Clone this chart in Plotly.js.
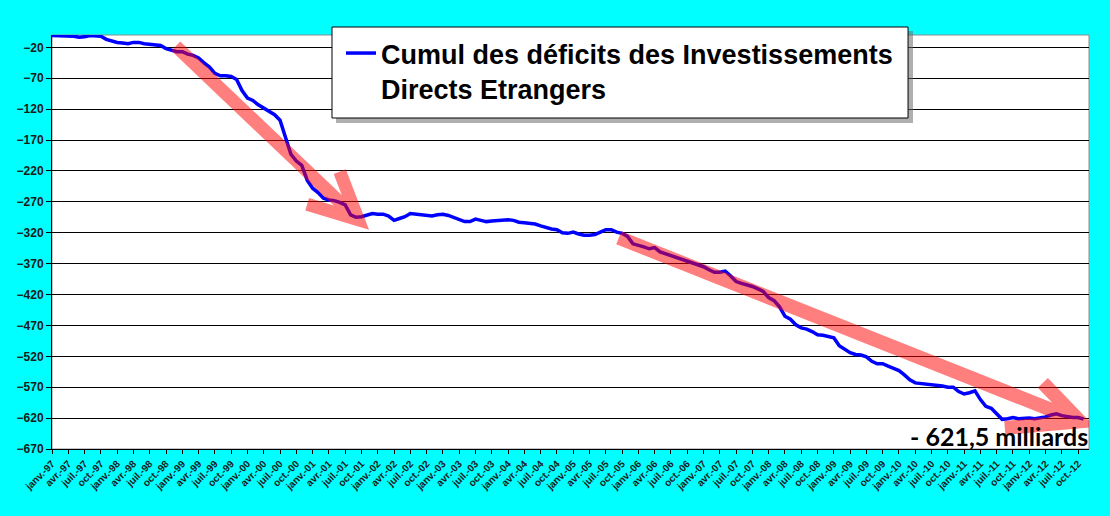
<!DOCTYPE html>
<html>
<head>
<meta charset="utf-8">
<script src="https://cdn.plot.ly/plotly-3.0.1.min.js"></script>
<style>
  html, body { margin: 0; padding: 0; background: #00ffff; }
  #chart { width: 1110px; height: 516px; }
</style>
</head>
<body>
<div id="chart"></div>
<script>
/* ── Cumul des déficits IDE, janv. 1997 – nov. 2012 (milliards) ── */

const MONTH_NAMES = ['janv.', 'févr.', 'mars', 'avr.', 'mai', 'juin',
                     'juil.', 'août', 'sept.', 'oct.', 'nov.', 'déc.'];
const FIRST_YEAR = 1997;

// one value per month
const cumulDeficit = [
  -1, -1, -1, -1, -2, -3.5, -3, -1, -1, -2, -7, -10,
  -12, -13, -14, -12, -12, -14, -15, -15.5, -17, -22, -25, -27,
  -27, -31, -33, -37, -45, -52, -62, -66, -66, -67, -72, -90,
  -102, -106, -113, -118, -124, -129, -138, -168, -193, -204, -211, -235,
  -248, -255, -264, -267, -268, -271, -275, -291, -295, -294, -291, -289,
  -290, -290, -293, -300, -297, -294, -289, -290, -291, -292, -293, -291,
  -290, -292, -295, -299, -302, -302, -298, -300, -302, -301, -300, -299,
  -299, -300, -303, -304, -305, -306, -309, -312, -314, -315, -320, -321,
  -319, -322, -324, -324, -323, -319, -315, -315, -319, -321, -326, -338,
  -340, -343, -346, -344, -351, -354, -356, -359, -362, -365, -368, -371,
  -375, -380, -384, -384, -382, -390, -399, -402, -404, -407, -411, -415,
  -425, -430, -440, -455, -460, -469, -474, -476, -480, -485, -486, -488,
  -490, -503, -509, -514, -517, -518, -521, -528, -532, -532, -536, -539,
  -543, -550, -558, -563, -564, -565, -565, -566, -568, -570, -570, -577,
  -581, -579, -576, -590, -601, -604, -614, -622, -621, -619, -621, -620,
  -620, -621, -619.5, -618, -615, -613, -616, -618, -619, -619, -621.5
];

const yTicks = [-20, -70, -120, -170, -220, -270, -320, -370, -420, -470, -520, -570, -620, -670];

// trend arrows: [month index, value] – shaft start, tip, barb 1, barb 2
const arrow1 = [[22.8, -18], [56.4, -299], [53, -221], [47, -274]];
const arrow2 = [[104.4, -328], [189.3, -625], [182.5, -563], [175.5, -636]];

const monthIdx = cumulDeficit.map((_, i) => i);
const monthLabels = monthIdx.map(i =>
  MONTH_NAMES[i % 12] + '-' + String((FIRST_YEAR + Math.floor(i / 12)) % 100).padStart(2, '0'));

const quarterIdx = monthIdx.filter(i => i % 3 === 0);
const quarterText = quarterIdx.map(i => monthLabels[i]);

function arrowPath(a) {
  const p = ([x, y]) => x + ',' + y;
  return 'M' + p(a[0]) + 'L' + p(a[1]) + 'M' + p(a[2]) + 'L' + p(a[1]) + 'L' + p(a[3]);
}

const TICK_FONT = { family: 'Liberation Sans, Arial, sans-serif', size: 12, color: '#1a1a1a', weight: 'bold' };

const traces = [{
  x: monthIdx,
  y: cumulDeficit,
  text: monthLabels,
  mode: 'lines',
  name: 'Cumul des déficits des Investissements<br>Directs Etrangers',
  line: { color: '#0000ff', width: 3.5 },
  hovertemplate: '%{text}: %{y:.1f}<extra></extra>',
}];

const layout = {
  width: 1110,
  height: 516,
  paper_bgcolor: '#00ffff',
  plot_bgcolor: '#ffffff',
  margin: { t: 35, b: 67, l: 52, r: 21, pad: 0 },
  showlegend: true,
  xaxis: {
    type: 'linear',
    range: [0, 191],
    tickmode: 'array',
    tickvals: quarterIdx,
    ticktext: quarterText,
    tickangle: -45,
    tickfont: { family: 'Liberation Sans, Arial, sans-serif', size: 10, color: '#1a1a1a', weight: 'bold' },
    ticks: 'outside',
    ticklen: 4,
    tickcolor: '#000000',
    showline: true,
    linecolor: '#000000',
    linewidth: 1,
    showgrid: false,
    zeroline: false,
    fixedrange: true,
  },
  yaxis: {
    range: [-670, 0],
    tickmode: 'array',
    tickvals: yTicks,
    tickfont: TICK_FONT,
    ticks: 'outside',
    ticklen: 5,
    tickcolor: '#000000',
    showline: true,
    linecolor: '#000000',
    linewidth: 1,
    gridcolor: '#000000',
    gridwidth: 1,
    zeroline: false,
    fixedrange: true,
  },
  legend: {
    x: 0.2787, xanchor: 'left',
    y: 1.0145, yanchor: 'top',
    bgcolor: 'rgba(0,0,0,0)',
    borderwidth: 0,
    valign: 'top',
    font: { family: 'Liberation Sans, Arial, sans-serif', size: 27, color: '#000000', weight: 'bold' },
  },
  shapes: [
    { type: 'rect', xref: 'paper', yref: 'paper', x0: 0, x1: 1, y0: 0, y1: 1,
      line: { color: '#8c8c8c', width: 1 }, layer: 'below' },
    // legend box shadow + box
    { type: 'rect', xref: 'paper', yref: 'paper', x0: 0.2739, x1: 0.8303, y0: 0.7874, y1: 1.0097,
      fillcolor: '#6e6e6e', line: { width: 0 }, opacity: 0.55, layer: 'above' },
    { type: 'rect', xref: 'paper', yref: 'paper', x0: 0.2700, x1: 0.8255, y0: 0.7995, y1: 1.0193,
      fillcolor: '#ffffff', line: { color: '#000000', width: 1 }, layer: 'above' },
    { type: 'path', xref: 'x', yref: 'y', path: arrowPath(arrow1),
      line: { color: '#ff0000', width: 13 }, opacity: 0.5, layer: 'above' },
    { type: 'path', xref: 'x', yref: 'y', path: arrowPath(arrow2),
      line: { color: '#ff0000', width: 14 }, opacity: 0.5, layer: 'above' },
  ],
  annotations: [{
    xref: 'paper', yref: 'paper',
    x: 1, xanchor: 'right',
    y: 0, yanchor: 'bottom',
    yshift: -3,
    text: '- 621,5 milliards',
    showarrow: false,
    borderpad: 0,
    font: { family: 'Lato, sans-serif', size: 25, color: '#000000', weight: 'bold' },
  }],
};

Plotly.newPlot('chart', traces, layout, { displayModeBar: false, staticPlot: true });
</script>
</body>
</html>
